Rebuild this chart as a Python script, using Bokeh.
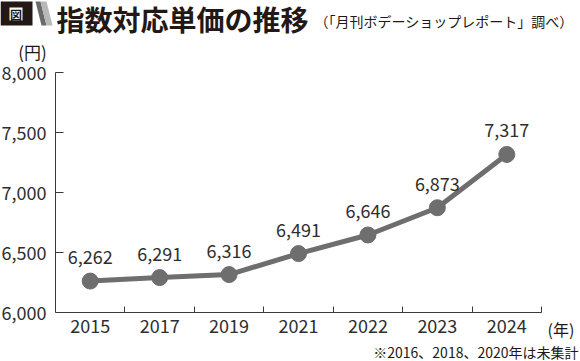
from bokeh.plotting import figure
from bokeh.models import (Label, FixedTicker, NumeralTickFormatter,
                          CustomJSTickFormatter, Range1d, ColumnDataSource)
from bokeh.core.properties import value
from bokeh.embed import file_html
from bokeh.resources import INLINE

# ---- data ----
years = ["2015", "2017", "2019", "2021", "2022", "2023", "2024"]
prices = [6262, 6291, 6316, 6491, 6646, 6873, 7317]
y_ticks = [6000, 6500, 7000, 7500, 8000]
title_text = "指数対応単価の推移"
subtitle_text = "（「月刊ボデーショップレポート」調べ）"
y_unit = "(円)"
x_unit = "(年)"
footnote = "※2016、2018、2020年は未集計"

# ---- style / layout (pixels on the canvas) ----
FONT = "Noto Sans CJK JP"
GRAY = "#6e6e6e"
TXT = "#231815"
NUM = "#2e2e2e"
AX = "#3a3a3a"
W, H = 580, 361
FL, FR, FT, FB = 55, 541, 72, 312     # where the axes sit
Y0, Y1 = 6000, 8000
N = len(years)


def dx(px):
    return (px - FL) / (FR - FL) * N


def dy(py):
    return Y0 + (FB - py) / (FB - FT) * (Y1 - Y0)


p = figure(width=W, height=H, output_backend="svg", toolbar_location=None,
           x_range=Range1d(dx(0), dx(W)), y_range=Range1d(dy(H), dy(0)),
           min_border=0, min_border_left=0, min_border_right=0,
           min_border_top=0, min_border_bottom=0)
p.outline_line_color = None
p.xgrid.visible = False
p.ygrid.visible = False
p.background_fill_color = "white"
p.border_fill_color = "white"

xs = [i + 0.5 for i in range(N)]
src = ColumnDataSource(dict(x=xs, y=prices, label=[f"{v:,}" for v in prices]))

p.line("x", "y", source=src, line_width=5, line_color=GRAY)
p.scatter("x", "y", source=src, size=16, fill_color=GRAY, line_color=GRAY)
p.text("x", "y", "label", source=src, text_align="center", text_baseline="middle",
       y_offset=-24, text_font=value(FONT), text_font_size="18px", text_color=NUM)

# x axis
xa = p.xaxis[0]
xa.fixed_location = Y0
xa.bounds = (0, N)
xa.ticker = FixedTicker(ticks=xs, minor_ticks=list(range(1, N + 1)))
xa.formatter = CustomJSTickFormatter(args=dict(labels=years),
                                     code="return labels[Math.floor(tick)]")
xa.major_tick_in = 0
xa.major_tick_out = 0
xa.minor_tick_in = 6
xa.minor_tick_out = 0
xa.major_label_standoff = 6
xa.major_label_text_font = FONT
xa.major_label_text_font_size = "18px"
xa.major_label_text_color = NUM
xa.axis_line_color = AX
xa.minor_tick_line_color = AX

# y axis
ya = p.yaxis[0]
ya.fixed_location = 0
ya.bounds = (Y0, Y1)
ya.ticker = FixedTicker(ticks=y_ticks)
ya.formatter = NumeralTickFormatter(format="0,0")
ya.major_tick_in = 8
ya.major_tick_out = 0
ya.minor_tick_in = 0
ya.minor_tick_out = 0
ya.major_label_standoff = 9
ya.major_label_text_font = FONT
ya.major_label_text_font_size = "18px"
ya.major_label_text_color = NUM
ya.axis_line_color = AX
ya.major_tick_line_color = AX

# title row: black tag box with 図, slanted grey stripe, title, subtitle
p.quad(left=dx(0), right=dx(32), top=dy(1), bottom=dy(25),
       fill_color="#231815", line_color=None)
p.quad(left=dx(9), right=dx(22), top=dy(7), bottom=dy(20),
       fill_color="white", line_color=None)
p.add_layout(Label(x=dx(15.5), y=dy(13.5), text="図", text_color="#231815",
                   text_font=FONT, text_font_style="bold", text_font_size="12px",
                   text_baseline="middle", text_align="center"))
p.patch(x=[dx(35), dx(40), dx(46), dx(41)], y=[dy(1), dy(1), dy(25), dy(25)],
        fill_color="#6a6a6a", line_color=None)
p.patch(x=[dx(40), dx(46), dx(52), dx(46)], y=[dy(1), dy(1), dy(25), dy(25)],
        fill_color="#b8b8b8", line_color=None)
p.add_layout(Label(x=dx(56), y=dy(18), text=title_text, text_color=TXT,
                   text_font=FONT, text_font_style="bold", text_font_size="28px",
                   text_baseline="middle", text_align="left"))
p.add_layout(Label(x=dx(314), y=dy(20), text=subtitle_text, text_color=TXT,
                   text_font=FONT, text_font_size="14px",
                   text_baseline="middle", text_align="left"))

# units and footnote
p.add_layout(Label(x=dx(32), y=dy(51), text=y_unit, text_color=TXT,
                   text_font=FONT, text_font_size="17px",
                   text_baseline="middle", text_align="center"))
p.add_layout(Label(x=dx(547), y=dy(328), text=x_unit, text_color=TXT,
                   text_font=FONT, text_font_size="16px",
                   text_baseline="middle", text_align="left"))
p.add_layout(Label(x=dx(578), y=dy(351), text=footnote, text_color=TXT,
                   text_font=FONT, text_font_size="14px",
                   text_baseline="middle", text_align="right"))

open("out.html", "w").write(file_html(p, INLINE))
